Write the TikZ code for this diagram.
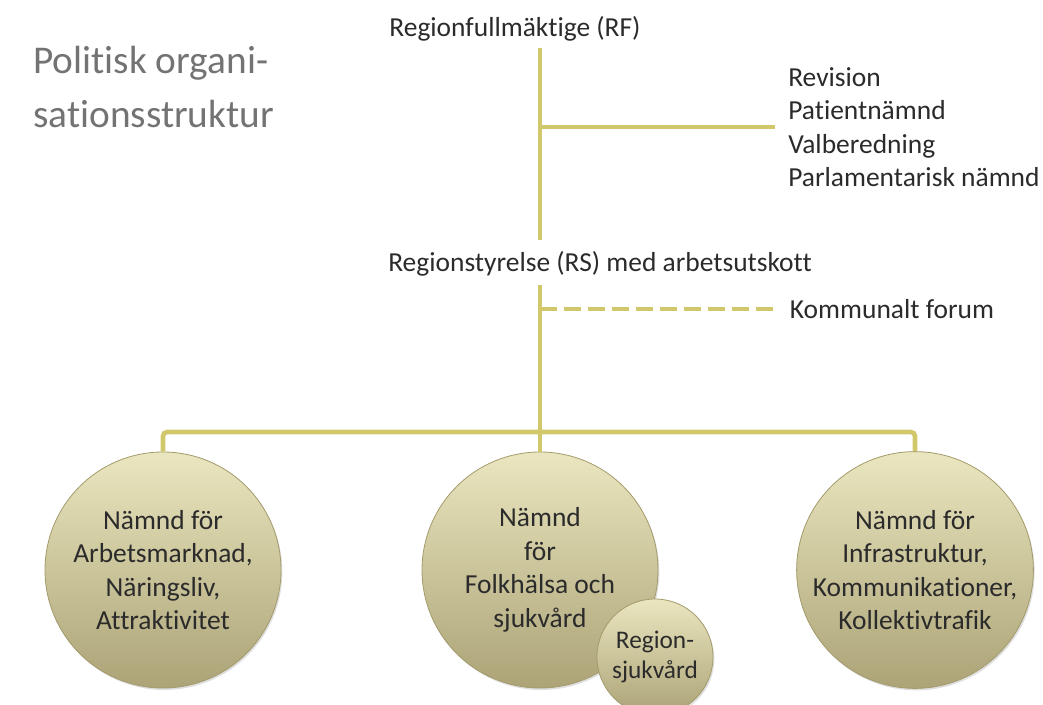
\documentclass[tikz,border=0pt]{standalone}
\usepackage{fontspec}
\setmainfont{Carlito}[Ligatures=NoCommon]
\usetikzlibrary{shadows}
\definecolor{linecol}{HTML}{D1C76B}
\definecolor{fillhi}{HTML}{EAE6BF}
\definecolor{filllo}{HTML}{ACA377}
\definecolor{rimcol}{HTML}{A39B6C}
\definecolor{txtcol}{HTML}{2B2B2B}
\definecolor{titlecol}{HTML}{737373}
\tikzset{
  orgtext/.style={text=txtcol, font=\fontsize{20.6}{25.2}\selectfont, inner sep=0pt},
  link/.style={draw=linecol, line width=3.4pt},
  board/.style={circle, draw=rimcol, line width=0.6pt, top color=fillhi, bottom color=filllo,
    text=txtcol, align=center, inner sep=0pt, minimum size=177pt,
    font=\fontsize{20.6}{25.2}\selectfont,
    drop shadow={opacity=0.25, shadow xshift=1pt, shadow yshift=-1.5pt}},
}
\begin{document}
\begin{tikzpicture}[x=0.75pt, y=-0.75pt]
  \useasboundingbox (0,0) rectangle (1043,704);
  % Title
  \node[anchor=west, text=titlecol, font=\fontsize{29.5}{40}\selectfont, align=left, inner sep=0pt]
    (title) at (33,87) {Politisk organi-\\sationsstruktur};
  % Levels
  \node[orgtext, anchor=base] (rf) at (515,36) {Regionfullmäktige (RF)};
  \node[orgtext, anchor=base west] (rs) at (388,271) {Regionstyrelse (RS) med arbetsutskott};
  \node[orgtext, anchor=west, align=left, inner xsep=9.75pt, font=\fontsize{20.6}{25.1}\selectfont]
    (list) at (775,127) {Revision\\Patientnämnd\\Valberedning\\Parlamentarisk nämnd};
  \node[orgtext, anchor=west, inner xsep=11pt] (kf) at (775,309) {Kommunalt forum};
  % Committees
  \foreach \n/\x/\txt in {c1/163/{Nämnd för\\Arbetsmarknad,\\Näringsliv,\\Attraktivitet},
      c2/540/{Nämnd\\för\\Folkhälsa och\\sjukvård},
      c3/915/{Nämnd för\\Infrastruktur,\\Kommunikationer,\\Kollektivtrafik}} {
    \node[board] (\n) at (\x,570) {\txt};
  }
  \node[board, minimum size=87pt, font=\fontsize{19}{22.5}\selectfont] (c4) at (655,657) {Region-\\sjukvård};
  % Lines
  \coordinate (bar) at (540,432);
  \draw[link, shorten <=5pt, shorten >=8pt] (rf.south -| c2.north) -- (rs.north -| c2.north);
  \draw[link] (list.west -| c2.north) -- (list.west);
  \draw[link, shorten <=7pt] (rs.south -| c2.north) -- (c2.north);
  \draw[link, dash pattern=on 12.75pt off 5.25pt] (kf.west -| c2.north) -- (kf.west);
  \draw[link, rounded corners=3pt] (c1.north) |- (bar) -| (c3.north);
\end{tikzpicture}
\end{document}
